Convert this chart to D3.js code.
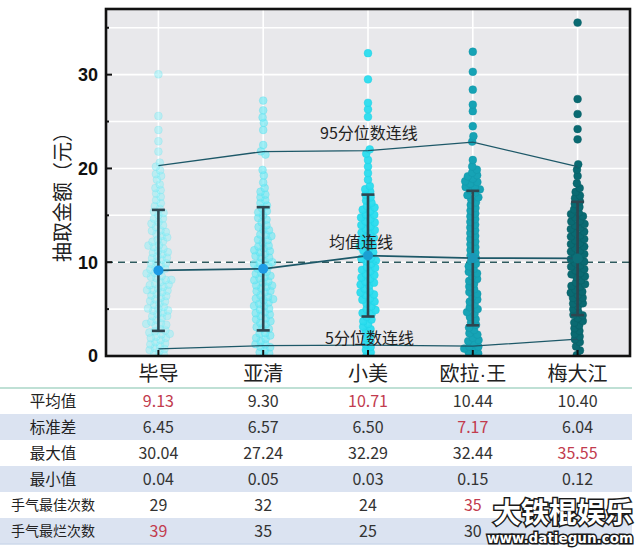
<!DOCTYPE html>
<html><head><meta charset="utf-8">
<script src="https://cdn.jsdelivr.net/npm/d3@7"></script>
<style>
html,body{margin:0;padding:0;background:#fff;}
svg{display:block;}
</style></head>
<body>
<svg id="chart" width="640" height="552"></svg>
<script>
const categories = ["毕导","亚清","小美","欧拉·王","梅大江"];
const meanVals = [9.13, 9.30, 10.71, 10.44, 10.40];
const sdVals = [6.45, 6.57, 6.50, 7.17, 6.04];
const p95Vals = [20.3, 21.8, 21.9, 22.8, 20.2];
const p5Vals = [0.75, 1.1, 1.15, 1.05, 1.8];
const maxVals = [30.04, 27.24, 32.29, 32.44, 35.55];
const minVals = [0.04, 0.05, 0.03, 0.15, 0.12];
const bestCounts = [29, 32, 24, 35, null];
const worstCounts = [39, 35, 25, 30, null];
const yTicks = [0, 10, 20, 30];
const rowLabels = ["平均值","标准差","最大值","最小值","手气最佳次数","手气最烂次数"];

const dotsBidao = [0.04,0.2,0.4,0.5,0.7,0.8,0.9,1.1,1.2,1.4,1.5,1.7,1.8,1.9,2.1,2.3,2.4,2.6,2.7,2.9,3.0,3.2,3.3,3.5,3.6,3.8,3.9,4.0,4.2,4.3,4.5,4.6,4.8,4.9,5.0,5.2,5.3,5.5,5.6,5.8,5.9,6.0,6.1,6.3,6.4,6.6,6.7,6.8,7.0,7.1,7.2,7.4,7.5,7.7,7.8,7.9,8.0,8.2,8.3,8.5,8.6,8.8,8.9,9.0,9.2,9.3,9.5,9.6,9.8,9.9,10.1,10.2,10.4,10.5,10.7,10.8,11.0,11.1,11.3,11.4,11.6,11.7,11.9,12.1,12.3,12.4,12.6,12.8,12.9,13.1,13.3,13.5,13.7,13.9,14.1,14.3,14.6,14.8,15.0,15.2,15.4,15.7,15.9,16.3,16.6,17.0,17.3,17.7,17.9,18.3,18.8,19.2,19.4,19.8,20.2,20.6,21.8,22.9,24.1,25.6,30.04];
const dotsYaqing = [0.05,0.3,0.5,0.6,0.9,1.0,1.2,1.3,1.6,1.8,1.9,2.2,2.4,2.5,2.8,2.9,3.1,3.4,3.5,3.7,3.9,4.1,4.2,4.4,4.6,4.7,4.9,5.1,5.3,5.4,5.6,5.8,5.9,6.1,6.2,6.4,6.5,6.7,6.9,7.0,7.2,7.3,7.5,7.6,7.8,8.0,8.1,8.3,8.4,8.6,8.8,8.9,9.1,9.2,9.4,9.6,9.7,9.9,10.0,10.2,10.4,10.5,10.7,10.9,11.0,11.2,11.4,11.5,11.7,11.9,12.0,12.2,12.5,12.7,12.9,13.0,13.3,13.5,13.8,14.0,14.2,14.5,14.7,15.0,15.3,15.5,15.8,16.0,16.3,16.6,16.9,17.2,17.5,17.9,18.5,19.3,19.8,21.5,21.8,22.5,24.1,24.9,25.4,26.2,27.24];
const dotsXiaomei = [0.03,0.4,0.7,1.0,1.2,1.5,1.9,2.3,2.6,2.9,3.2,3.4,3.7,3.9,4.2,4.4,4.6,4.9,5.1,5.3,5.5,5.8,6.0,6.2,6.4,6.6,6.8,7.0,7.2,7.4,7.6,7.8,8.0,8.2,8.4,8.6,8.8,9.0,9.2,9.4,9.6,9.8,10.0,10.2,10.4,10.6,10.8,11.0,11.2,11.4,11.6,11.8,12.0,12.2,12.4,12.6,12.8,13.0,13.2,13.4,13.6,13.8,14.0,14.2,14.4,14.6,14.8,15.0,15.2,15.4,15.6,15.8,16.0,16.3,16.6,16.9,17.2,17.5,17.8,18.1,18.8,19.5,20.2,20.9,21.6,22.0,25.5,26.3,27.0,29.5,32.29];
const dotsOulawang = [0.15,0.3,0.5,0.6,0.8,1.0,1.1,1.3,1.5,1.7,2.0,2.2,2.5,2.8,3.0,3.3,3.6,3.9,4.2,4.5,4.7,5.0,5.2,5.5,5.8,6.0,6.3,6.6,6.9,7.1,7.4,7.7,8.0,8.2,8.5,8.8,9.0,9.3,9.6,9.9,10.1,10.4,10.7,11.0,11.3,11.6,11.9,12.2,12.5,12.8,13.1,13.4,13.7,14.0,14.3,14.6,14.9,15.2,15.5,15.8,16.1,16.4,16.7,17.0,17.2,17.4,17.6,17.8,18.0,18.1,18.3,18.5,18.7,18.9,19.1,19.3,19.5,19.8,20.2,20.9,22.9,23.4,24.5,26.1,26.8,28.4,30.3,32.44];
const dotsMeidajiang = [0.12,0.6,1.0,1.5,1.8,2.1,2.4,2.7,3.0,3.3,3.5,3.8,4.0,4.3,4.5,4.8,5.0,5.2,5.5,5.7,5.9,6.1,6.3,6.5,6.7,6.9,7.1,7.3,7.5,7.7,7.9,8.1,8.3,8.5,8.7,8.9,9.1,9.3,9.5,9.7,9.9,10.1,10.3,10.5,10.7,10.9,11.1,11.3,11.5,11.7,11.9,12.1,12.3,12.5,12.7,12.9,13.1,13.3,13.5,13.7,13.9,14.1,14.3,14.5,14.7,14.9,15.1,15.3,15.6,15.9,16.2,16.5,16.8,17.1,17.5,17.9,18.4,19.2,19.9,20.4,23.1,24.2,25.8,27.4,35.55];
const allDots = [dotsBidao, dotsYaqing, dotsXiaomei, dotsOulawang, dotsMeidajiang];

const dotFill = ["#8ff0f8","#6fe9f5","#2adcee","#16a3b5","#0a6a72"];
const dotOpacity = [0.5, 0.65, 0.95, 1, 1];
const dotStroke = ["#64e2ee","#4fdcec","#1fd0e4","#1496a8","#085e66"];
const meanFill = ["#1e9ce6","#1e9ce6","#1a9fd2","#1a97b8","#0d6f78"];

const svg = d3.select("#chart");
const m = {left:106, right:630, top:9, bottom:356};
const cjk = "'Noto Sans CJK SC','Noto Sans',sans-serif";

const x = d3.scalePoint().domain(categories).range([m.left, m.right]).padding(0.5);
const y = d3.scaleLinear().domain([0, 37]).range([m.bottom, m.top]);

// plot background
svg.append("rect").attr("x", m.left).attr("y", m.top).attr("width", m.right-m.left).attr("height", m.bottom-m.top).attr("fill", "#e8e8eb");
svg.append("clipPath").attr("id","clip").append("rect").attr("x", m.left).attr("y", m.top).attr("width", m.right-m.left).attr("height", m.bottom-m.top);

// grid
const gridVals = d3.range(5, 37, 5);
svg.append("g").selectAll("line").data(gridVals).join("line")
  .attr("x1", m.left).attr("x2", m.right).attr("y1", d=>y(d)).attr("y2", d=>y(d))
  .attr("stroke", "#fff").attr("stroke-width", 1.6);
svg.append("g").selectAll("line").data(categories).join("line")
  .attr("x1", d=>x(d)).attr("x2", d=>x(d)).attr("y1", m.top).attr("y2", m.bottom)
  .attr("stroke", "#fff").attr("stroke-width", 1.6);

// dashed reference line
svg.append("line").attr("x1", m.left).attr("x2", m.right).attr("y1", y(10)).attr("y2", y(10))
  .attr("stroke", "#2e5a5e").attr("stroke-width", 1.6).attr("stroke-dasharray", "7,5");

// swarm
const nodes = [];
allDots.forEach((arr, gi) => {
  arr.forEach((v, i) => {
    nodes.push({g: gi, v: v, cx: x(categories[gi]), x: x(categories[gi]) + ((i % 2) ? 0.5 : -0.5), y: y(v)});
  });
});
const sim = d3.forceSimulation(nodes)
  .force("x", d3.forceX(d => d.cx).strength(0.14))
  .force("y", d3.forceY(d => y(d.v)).strength(1))
  .force("c", d3.forceCollide(2.8).iterations(2))
  .stop();
for (let i = 0; i < 300; i++) sim.tick();

const dotsG = svg.append("g").attr("clip-path", "url(#clip)");
dotsG.selectAll("circle").data(nodes).join("circle")
  .attr("cx", d => d.x).attr("cy", d => d.y).attr("r", 3.9)
  .attr("fill", d => dotFill[d.g]).attr("fill-opacity", d => dotOpacity[d.g])
  .attr("stroke", d => dotStroke[d.g]).attr("stroke-opacity", d => dotOpacity[d.g] * 0.8).attr("stroke-width", 0.6);

// error bars
const eb = svg.append("g").attr("stroke", "#2e4650").attr("stroke-width", 2.6);
categories.forEach((c, i) => {
  const lo = meanVals[i] - sdVals[i], hi = meanVals[i] + sdVals[i];
  eb.append("line").attr("x1", x(c)).attr("x2", x(c)).attr("y1", y(lo)).attr("y2", y(hi));
  eb.append("line").attr("x1", x(c)-6.5).attr("x2", x(c)+6.5).attr("y1", y(lo)).attr("y2", y(lo));
  eb.append("line").attr("x1", x(c)-6.5).attr("x2", x(c)+6.5).attr("y1", y(hi)).attr("y2", y(hi));
});

// connecting lines
const line = d3.line().x((d,i) => x(categories[i])).y(d => y(d));
svg.append("path").datum(meanVals).attr("d", line).attr("fill","none").attr("stroke","#1d5868").attr("stroke-width",1.8);
svg.append("path").datum(p95Vals).attr("d", line).attr("fill","none").attr("stroke","#1d5868").attr("stroke-width",1.3);
svg.append("path").datum(p5Vals).attr("d", line).attr("fill","none").attr("stroke","#1d5868").attr("stroke-width",1.3);

// mean points
svg.append("g").selectAll("circle").data(meanVals).join("circle")
  .attr("cx", (d,i) => x(categories[i])).attr("cy", d => y(d)).attr("r", 5)
  .attr("fill", (d,i) => meanFill[i]);

// line labels
const lab = svg.append("g").attr("font-family", cjk).attr("font-size", 16).attr("fill", "#222");
lab.append("text").attr("x", 320).attr("y", y(p95Vals[2]) - 12).text("95分位数连线");
lab.append("text").attr("x", 329).attr("y", y(meanVals[2]) - 8).text("均值连线");
lab.append("text").attr("x", 325).attr("y", y(p5Vals[2]) - 1).text("5分位数连线");

// frame
svg.append("rect").attr("x", m.left).attr("y", m.top).attr("width", m.right-m.left).attr("height", m.bottom-m.top)
  .attr("fill", "none").attr("stroke", "#111").attr("stroke-width", 2.6);

// ticks (inside)
const tg = svg.append("g").attr("stroke", "#111").attr("stroke-width", 2);
d3.range(0, 36, 5).forEach(v => {
  const major = v % 10 === 0;
  tg.append("line").attr("x1", m.left).attr("x2", m.left + (major ? 6 : 3)).attr("y1", y(v)).attr("y2", y(v));
});
categories.forEach(c => {
  tg.append("line").attr("x1", x(c)).attr("x2", x(c)).attr("y1", m.bottom).attr("y2", m.bottom - 6);
});
svg.append("g").selectAll("text").data(yTicks).join("text")
  .attr("x", 98).attr("y", d => y(d)).attr("dy", "0.36em").attr("text-anchor", "end")
  .attr("font-family", "'Liberation Sans',Arial,sans-serif").attr("font-weight", "bold").attr("font-size", 18)
  .attr("fill", "#111").text(d => d);

// y axis title
svg.append("text").attr("transform", `translate(70,${192}) rotate(-90)`).attr("text-anchor", "middle")
  .attr("font-family", cjk).attr("font-size", 20).attr("fill", "#222").text("抽取金额（元）");

// category labels (narrow middle dot)
const catText = svg.append("g").selectAll("text").data(categories).join("text")
  .attr("x", d => x(d)).attr("y", 381).attr("text-anchor", "middle")
  .attr("font-family", cjk).attr("font-size", 20).attr("fill", "#222");
catText.each(function(d) {
  const t = d3.select(this);
  d.split(/(·)/).filter(s => s.length).forEach(s => {
    const ts = t.append("tspan").text(s);
    if (s === "·") ts.attr("font-family", "'Liberation Sans',Arial,sans-serif");
  });
});

// table
const rowH = 26, tableTop = 388;
const rows = [
  meanVals.map(v => v.toFixed(2)),
  sdVals.map(v => v.toFixed(2)),
  maxVals.map(v => v.toFixed(2)),
  minVals.map(v => v.toFixed(2)),
  bestCounts.map(v => v == null ? "" : String(v)),
  worstCounts.map(v => v == null ? "" : String(v))
];
const redCells = [[0,2],[3],[4],[],[3],[0]];
const tbl = svg.append("g");
rows.forEach((r, ri) => {
  const ty = tableTop + ri * rowH;
  tbl.append("rect").attr("x", 0).attr("y", ty).attr("width", 632).attr("height", rowH)
    .attr("fill", ri % 2 ? "#dbe3f1" : "#ffffff");
  tbl.append("text").attr("x", 53).attr("y", ty + rowH/2).attr("dy", "0.36em").attr("text-anchor", "middle")
    .attr("font-family", cjk).attr("font-size", ri >= 4 ? 14 : 15.5).attr("fill", "#222").text(rowLabels[ri]);
  r.forEach((t, ci) => {
    tbl.append("text").attr("x", x(categories[ci])).attr("y", ty + rowH/2).attr("dy", "0.36em").attr("text-anchor", "middle")
      .attr("font-family", cjk).attr("font-size", 16)
      .attr("fill", redCells[ri].includes(ci) ? "#c23b4e" : "#333").text(t);
  });
});
tbl.append("line").attr("x1", 0).attr("x2", 632).attr("y1", tableTop).attr("y2", tableTop).attr("stroke", "#bfe0d5").attr("stroke-width", 2);
tbl.append("line").attr("x1", 0).attr("x2", 632).attr("y1", tableTop + 6*rowH).attr("y2", tableTop + 6*rowH).attr("stroke", "#cdd9ea").attr("stroke-width", 1.5);

// watermark
const wm = svg.append("g").attr("fill", "#fff").attr("stroke", "#1a1a1a").attr("stroke-width", 3)
  .attr("paint-order", "stroke").attr("font-weight", "bold");
wm.append("text").attr("x", 633).attr("y", 523).attr("text-anchor", "end").attr("font-family", cjk).attr("font-size", 28).text("大铁棍娱乐");
wm.append("text").attr("x", 633).attr("y", 543).attr("text-anchor", "end").attr("font-family", "'DejaVu Sans',sans-serif").attr("font-size", 13.5).text("www.datiegun.com");
</script>
</body></html>
